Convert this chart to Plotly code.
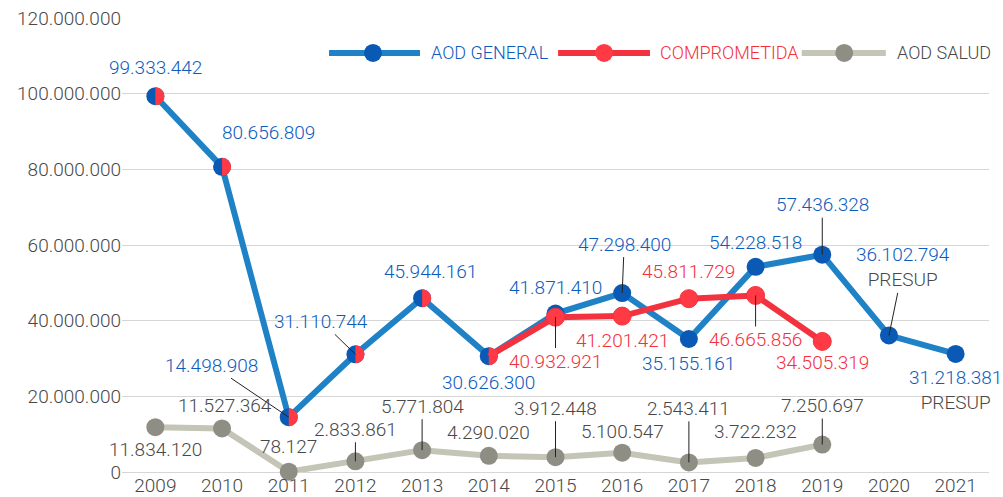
import plotly.graph_objects as go

# ---------------- data ----------------
years = [2009, 2010, 2011, 2012, 2013, 2014, 2015, 2016, 2017, 2018, 2019, 2020, 2021]
aod_general = [99333442, 80656809, 14498908, 31110744, 45944161, 30626300, 41871410,
               47298400, 35155161, 54228518, 57436328, 36102794, 31218381]
comprometida = [99333442, 80656809, 14498908, 31110744, 45944161, 30626300, 40932921,
                41201421, 45811729, 46665856, 34505319]
aod_salud = [11834120, 11527364, 78127, 2833861, 5771804, 4290020, 3912448,
             5100547, 2543411, 3722232, 7250697]
presup_years = [2020, 2021]
y_ticks = [0, 20000000, 40000000, 60000000, 80000000, 100000000, 120000000]
series_names = ["AOD GENERAL", "COMPROMETIDA", "AOD SALUD"]

# ---------------- styles ----------------
FONT = "Roboto, 'Open Sans', sans-serif"
WEIGHT = 300
BLUE_LINE = "#1f82c6"
BLUE_MK = "#0a59b4"
BLUE_TXT = "#0d5cbd"
RED_LINE = "#f2323f"
RED_MK = "#ff3a44"
RED_TXT = "#f4303c"
GRAY_LINE = "#c4c5b6"
GRAY_MK = "#8e8e84"
GRAY_TXT = "#484848"
MK = 18
LW = 6


def fmt(v):
    return f"{v:,}".replace(",", ".")


fig = go.Figure()

# AOD SALUD
fig.add_trace(go.Scatter(
    x=years[:len(aod_salud)], y=aod_salud, mode="lines+markers",
    line=dict(color=GRAY_LINE, width=LW), marker=dict(size=MK, color=GRAY_MK, opacity=1),
    cliponaxis=False, showlegend=False, hoverinfo="skip"))

# AOD GENERAL
fig.add_trace(go.Scatter(
    x=years, y=aod_general, mode="lines+markers",
    line=dict(color=BLUE_LINE, width=LW), marker=dict(size=MK, color=BLUE_MK, opacity=1),
    cliponaxis=False, showlegend=False, hoverinfo="skip"))

# COMPROMETIDA: part that differs from AOD GENERAL drawn as a line on top
same = [comprometida[i] == aod_general[i] for i in range(len(comprometida))]
start = max(i for i in range(len(comprometida)) if all(same[:i + 1]))
red_x = years[start:len(comprometida)]
red_y = comprometida[start:]
red_sizes = [0 if same[start + j] else MK for j in range(len(red_y))]
fig.add_trace(go.Scatter(
    x=red_x, y=red_y, mode="lines+markers",
    line=dict(color=RED_LINE, width=LW),
    marker=dict(size=red_sizes, color=RED_MK, opacity=1, sizemode="diameter"),
    cliponaxis=False, showlegend=False, hoverinfo="skip"))

shapes = []
# red right halves on shared points
r = MK / 2
k = 0.5523 * r
half_path = f"M0,{r}C{k},{r} {r},{k} {r},0C{r},{-k} {k},{-r} 0,{-r}Z"
for i, s in enumerate(same):
    if s:
        shapes.append(dict(type="path", xref="x", yref="y", xsizemode="pixel",
                           ysizemode="pixel", xanchor=years[i], yanchor=comprometida[i],
                           path=half_path, fillcolor=RED_MK, line=dict(width=0),
                           layer="above"))

# ---------------- data labels ----------------
# (dx, dy, leader) offsets in screen pixels
blue_lab = [(0, -29, False), (46, -34, False), (-77, -52, True), (-34, -33, True),
            (8, -27, False), (0, 26, False), (0, -26, False), (2, -49, True),
            (0, 24, False), (0, -24, False), (0, -50, True), (14, -68, True),
            (0, 36, False)]
red_lab = {6: (0, 44, True), 7: (0, 24, False), 8: (0, -27, False),
           9: (0, 44, True), 10: (0, 21, False)}
gray_lab = [(0, 22, False), (3, -23, False), (0, -25, False), (0, -32, True),
            (0, -44, True), (0, -23, False), (0, -49, True), (0, -21, False),
            (0, -54, True), (0, -26, False), (0, -39, True)]

annotations = []


def add_label(x, y, text, color, dx, dy, leader):
    a = dict(x=x, y=y, xref="x", yref="y", text=text,
             font=dict(family=FONT, size=19, color=color, weight=WEIGHT))
    if leader:
        a.update(showarrow=True, ax=dx, ay=dy, arrowhead=0, arrowwidth=1,
                 arrowcolor="#222222", standoff=0, startstandoff=0)
    else:
        a.update(showarrow=False, xshift=dx, yshift=-dy)
    annotations.append(a)


for i, v in enumerate(aod_general):
    dx, dy, ld = blue_lab[i]
    txt = fmt(v)
    if years[i] in presup_years:
        txt = f"{txt}<br><span style='color:{GRAY_TXT}'>PRESUP</span>"
    add_label(years[i], v, txt, BLUE_TXT, dx, dy, ld)

for i, (dx, dy, ld) in red_lab.items():
    add_label(years[i], comprometida[i], fmt(comprometida[i]), RED_TXT, dx, dy, ld)

for i, v in enumerate(aod_salud):
    dx, dy, ld = gray_lab[i]
    add_label(years[i], v, fmt(v), GRAY_TXT, dx, dy, ld)

# ---------------- manual legend ----------------
leg_y = 0.923
leg_items = [(0.2388, 0.3437, 0.2895, 0.354, BLUE_LINE, BLUE_MK, BLUE_TXT),
             (0.503, 0.609, 0.556, 0.618, RED_LINE, RED_MK, RED_TXT),
             (0.784, 0.881, 0.833, 0.8916, GRAY_LINE, GRAY_MK, GRAY_TXT)]
for name, (x0, x1, xm, xt, lc, mc, tc) in zip(series_names, leg_items):
    shapes.append(dict(type="line", xref="paper", yref="paper", x0=x0, x1=x1,
                       y0=leg_y, y1=leg_y, line=dict(color=lc, width=LW)))
    shapes.append(dict(type="circle", xref="paper", yref="paper", xsizemode="pixel",
                       ysizemode="pixel", xanchor=xm, yanchor=leg_y,
                       x0=-r, x1=r, y0=-r, y1=r, fillcolor=mc, line=dict(width=0)))
    annotations.append(dict(x=xt, y=leg_y, xref="paper", yref="paper", text=name,
                            showarrow=False, xanchor="left", yanchor="middle",
                            font=dict(family=FONT, size=18, color=tc, weight=WEIGHT)))

fig.update_layout(
    width=1003, height=497,
    margin=dict(l=122, r=14, t=18, b=25, autoexpand=False),
    paper_bgcolor="white", plot_bgcolor="white",
    font=dict(family=FONT, size=19, color=GRAY_TXT, weight=WEIGHT),
    shapes=shapes, annotations=annotations, showlegend=False,
    xaxis=dict(range=[years[0] - 0.5, years[-1] + 0.5], tickvals=years,
               ticktext=[str(y) for y in years], showgrid=False, zeroline=False,
               showline=False, ticks="", automargin=False,
               tickfont=dict(size=19, color=GRAY_TXT, weight=WEIGHT)),
    yaxis=dict(range=[0, 120000000], tickvals=y_ticks,
               ticktext=[fmt(v) for v in y_ticks], showgrid=True,
               gridcolor="#d6d6d6", gridwidth=1, zeroline=True,
               zerolinecolor="#d6d6d6", zerolinewidth=1, showline=False, ticks="",
               automargin=False, tickfont=dict(size=19, color=GRAY_TXT, weight=WEIGHT)),
)

fig.write_html("out.html", config={"displayModeBar": False},
               post_script="document.body.style.margin='0';")
